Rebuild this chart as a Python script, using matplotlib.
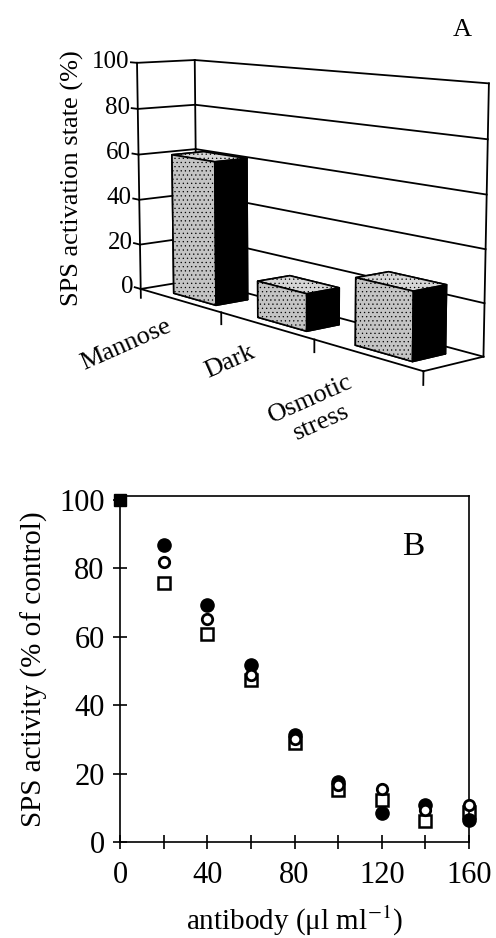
import matplotlib as mpl
mpl.use('Agg')
import matplotlib.pyplot as plt
from matplotlib.ticker import MultipleLocator
from mpl_toolkits.mplot3d import proj3d

plt.rcParams['font.family'] = ['Liberation Serif', 'DejaVu Serif']
plt.rcParams['mathtext.fontset'] = 'stix'
plt.rcParams['hatch.linewidth'] = 0.4

# panel A data
conditions = ['Mannose', 'Dark', 'Osmotic\nstress']
activation = [61, 15, 26]
a_ticks = [0, 20, 40, 60, 80, 100]

# panel B data
control_x = [0]
control_y = [100]
antibody = [20, 40, 60, 80, 100, 120, 140, 160]
sps_filled = [87, 69.3, 51.7, 31.2, 17.6, 8.5, 10.7, 6.3]
sps_open = [82, 65.2, 48.8, 30.2, 16.6, 15.6, 9.3, 10.7]
sps_square = [75.8, 60.8, 47.3, 29, 15.3, 12.2, 6, 8.8]

fig = plt.figure(figsize=(4.96, 9.38), dpi=100)

# ---- panel A : 3d bars ----
axA = fig.add_axes([0.179, 0.5687, 0.8125, 0.43], projection='3d', computed_zorder=False)
axA.set_proj_type('persp', focal_length=0.68)
axA.view_init(elev=8.8, azim=-40)
axA.set_box_aspect((430, 75, 243), zoom=1.24)
axA.set_xlim(0, 3)
axA.set_ylim(0, 1)
axA.set_zlim(0, 100)
axA.set_axis_off()
M = axA.get_proj()


def text3d(x, y, z, s, **kw):
    # put a flat text at the projected position of a 3d point
    px, py, _ = proj3d.proj_transform(x, y, z, M)
    return axA.text2D(px, py, s, transform=axA.transData, **kw)


n = len(conditions)
lk = dict(color='black', lw=1.3, zorder=1)
for z in a_ticks:
    axA.plot([0, n], [1, 1], [z, z], **lk)
    axA.plot([0, 0], [0, 1], [z, z], **lk)
    axA.plot([-0.08, 0], [0, 0], [z, z], **lk)
    text3d(-0.1, 0, z, str(z), ha='right', va='center', fontsize=18)
axA.plot([0, 0], [1, 1], [0, 100], **lk)
axA.plot([n, n], [1, 1], [0, 100], **lk)
axA.plot([0, 0], [0, 0], [-4, 100], **lk)
axA.plot([0, n], [0, 0], [0, 0], **lk)
axA.plot([n, n], [0, 1], [0, 0], **lk)
for i in range(1, n + 1):
    axA.plot([i, i], [0, 0], [0, -5], **lk)

faces = ['#b0b0b0', '#d6d6d6', '#c4c4c4', '#909090', '#909090', 'black']
for i, v in enumerate(activation):
    b = axA.bar3d(i + 0.28, 0.2, 0, 0.52, 0.55, v, color=faces, shade=False,
                  edgecolor='black', linewidth=1.2, zorder=2 + i)
    b.set_hatch('....')

for i, lab in enumerate(conditions):
    text3d(i + 0.32, 0, -8.5, lab, ha='right', va='top', rotation=24,
           rotation_mode='anchor', multialignment='center', fontsize=19)

fig.text(72 / 496, 1 - 178 / 938, 'SPS activation state (%)', rotation=90,
         ha='center', va='center', fontsize=19)
fig.text(462 / 496, 1 - 30 / 938, 'A', ha='center', va='center', fontsize=19)

# ---- panel B : scatter ----
axB = fig.add_axes([120 / 496, 96 / 938, 349 / 496, 346 / 938])
axB.plot(antibody, sps_filled, 'o', color='black', ms=9.5, clip_on=False, zorder=3)
axB.plot(antibody, sps_open, 'o', mfc='white', mec='black', mew=2, ms=7.5,
         clip_on=False, zorder=4)
axB.plot(antibody, sps_square, 's', mfc='white', mec='black', mew=1.8, ms=8,
         clip_on=False, zorder=2)
axB.plot(control_x, control_y, 's', color='black', ms=8, clip_on=False, zorder=5)

axB.set_xlim(0, 160)
axB.set_ylim(0, 101.2)
axB.xaxis.set_major_locator(MultipleLocator(40))
axB.xaxis.set_minor_locator(MultipleLocator(20))
axB.yaxis.set_major_locator(MultipleLocator(20))
axB.tick_params(which='both', direction='inout', length=10, width=1.2)
axB.tick_params(axis='x', labelsize=22, pad=9)
axB.tick_params(axis='y', labelsize=22, pad=6)
for s in axB.spines.values():
    s.set_linewidth(1.2)
axB.set_xlabel('antibody (μl ml$^{-1}$)', fontsize=21, labelpad=10)
axB.set_ylabel('SPS activity (% of control)', fontsize=21, labelpad=8)
axB.text(0.84, 0.853, 'B', transform=axB.transAxes, ha='center', va='center',
         fontsize=24)

fig.savefig('out.png', dpi=100)
